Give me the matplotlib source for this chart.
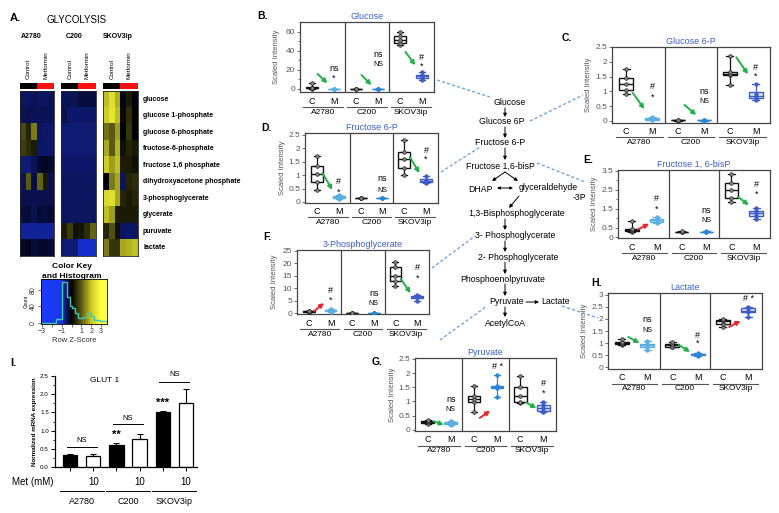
import numpy as np
import matplotlib
matplotlib.use('Agg')
import matplotlib.pyplot as plt
import matplotlib.transforms as mtransforms
from matplotlib.colors import LinearSegmentedColormap, ListedColormap
from matplotlib.patches import FancyArrowPatch
from matplotlib.lines import Line2D

plt.rcParams['font.family'] = ['Liberation Sans', 'DejaVu Sans']
plt.rcParams['axes.linewidth'] = 0.9

# ---------------- data ----------------
cell_lines = ['A2780', 'C200', 'SKOV3ip']
metabolites = ['glucose', 'glucose 1-phosphate', 'glucose 6-phosphate', 'fructose-6-phosphate',
               'fructose 1,6 phosphate', 'dihydroxyacetone phosphate', '3-phosphoglycerate',
               'glycerate', 'puruvate', 'lactate']

# row z-scores, 3 control + 3 metformin columns
heat_a2780 = [
    [-0.5, -0.5, -0.45, -0.5, -0.5, -0.45],
    [-0.45, -0.4, -0.45, -0.45, -0.45, -0.45],
    [0.8, 0.4, 1.3, -0.5, -0.55, -0.55],
    [0.7, 0.5, 0.3, -0.55, -0.55, -0.55],
    [-0.6, -0.6, -0.45, -0.25, -0.15, -0.25],
    [-0.45, 1.0, -0.35, 1.1, 0.3, -0.4],
    [-0.4, -0.4, -0.4, -0.4, -0.4, -0.4],
    [-0.35, -0.3, -0.4, -0.3, -0.35, -0.25],
    [-0.75, -0.75, -0.75, -0.75, -0.75, -0.75],
    [-0.2, -0.15, -0.3, -0.25, -0.2, -0.3],
]
heat_c200 = [
    [-0.45, -0.45, -0.45, -0.35, -0.35, -0.35],
    [-0.4, -0.55, -0.55, -0.55, -0.55, -0.55],
    [-0.6, -0.6, -0.6, -0.6, -0.6, -0.6],
    [-0.6, -0.6, -0.6, -0.6, -0.6, -0.6],
    [-0.55, -0.55, -0.55, -0.55, -0.55, -0.55],
    [-0.5, -0.5, -0.5, -0.5, -0.5, -0.5],
    [-0.5, -0.5, -0.5, -0.5, -0.5, -0.5],
    [-0.5, -0.5, -0.5, -0.5, -0.5, -0.5],
    [0.3, 0.7, 0.2, 0.25, 0.5, 1.1],
    [-0.6, -0.6, -0.6, -0.9, -0.9, -0.9],
]
heat_skov = [
    [1.9, 2.4, 1.8, -0.1, 0.3, -0.05],
    [2.1, 2.5, 1.9, 0.1, 0.5, 0.0],
    [1.2, 1.0, 1.6, 0.0, 0.6, 0.0],
    [1.7, 1.0, 1.8, 0.2, 0.4, 0.3],
    [2.1, 1.6, 1.9, 0.3, 0.3, 0.2],
    [0.0, 1.3, 1.7, -0.5, 0.4, 0.5],
    [2.3, 2.4, 1.7, 0.4, 0.3, 0.4],
    [1.9, 1.6, 0.3, 0.3, 0.3, 0.3],
    [0.4, 0.9, 0.2, -0.5, -0.55, -0.5],
    [1.3, 0.6, 0.6, 1.7, 1.8, 1.9],
]

key_edges = [-3.1, -1.55, -1.0, -0.5, -0.2, 0.05, 0.35, 0.7, 1.2, 1.55, 1.95, 2.3, 2.9, 3.6]
key_counts = [0, 9, 100, 63, 40, 36, 23, 11, 14, 23, 17, 8, 5]

# scaled intensities: per cell line, control (C) and metformin (M)
glc_ctrl = [[0.3, 0.8, 1.2, 6.0], [0.1, 0.2, 0.3], [46, 48, 52, 56, 60]]
glc_met = [[0.1, 0.2, 0.3], [0.2, 0.3, 0.4], [9.5, 12, 13.5, 15, 17.5]]
glc_sig = [('ns', '*'), ('ns', 'NS'), ('#', '*')]
glc_trend = ['down', 'down', 'down']

g6p_ctrl = [[0.9, 1.05, 1.25, 1.45, 1.75], [0.01, 0.02, 0.03], [1.2, 1.55, 1.6, 1.65, 2.2]]
g6p_met = [[0.02, 0.05, 0.08, 0.12], [0.01, 0.02, 0.03], [0.7, 0.78, 0.9, 1.25]]
g6p_sig = [('#', '*'), ('ns', 'NS'), ('#', '*')]
g6p_trend = ['down', 'down', 'down']

f6p_ctrl = [[0.45, 0.75, 1.05, 1.35, 1.7], [0.14, 0.15, 0.16], [1.0, 1.25, 1.6, 1.85, 2.3]]
f6p_met = [[0.12, 0.15, 0.2, 0.24], [0.14, 0.15, 0.16], [0.72, 0.76, 0.8, 0.97]]
f6p_sig = [('#', '*'), ('ns', 'NS'), ('#', '*')]
f6p_trend = ['down', None, 'down']

fbp_ctrl = [[0.3, 0.35, 0.4, 0.45, 0.85], [0.28, 0.3, 0.32], [1.85, 2.1, 2.5, 2.85, 3.35]]
fbp_met = [[0.75, 0.85, 0.95, 1.05], [0.28, 0.3, 0.32], [0.95, 1.15, 1.3, 1.4, 1.55]]
fbp_sig = [('#', '*'), ('ns', 'NS'), ('#', '*')]
fbp_trend = ['up', None, 'down']

pg3_ctrl = [[0.3, 0.5, 0.8, 1.0], [0.1, 0.15, 0.2], [11, 13, 15, 18.5, 20.5]]
pg3_met = [[0.6, 0.9, 1.2, 1.5], [0.1, 0.15, 0.2], [5, 6.3, 6.7, 7.3]]
pg3_sig = [('#', '*'), ('ns', 'NS'), ('#', '*')]
pg3_trend = ['up', None, 'down']

pyr_ctrl = [[0.22, 0.27, 0.3, 0.35], [0.62, 0.97, 1.1, 1.18, 1.56], [0.95, 0.98, 1.2, 1.5, 1.9]]
pyr_met = [[0.18, 0.22, 0.27, 0.3], [1.15, 1.46, 1.52, 1.56, 1.94], [0.62, 0.67, 0.78, 0.87, 0.97]]
pyr_sig = [('ns', 'NS'), ('# *', ''), ('#', '*')]
pyr_trend = ['down', 'up', 'down']

lac_ctrl = [[0.92, 0.97, 1.0, 1.05, 1.15], [0.82, 0.85, 0.95, 1.05], [1.65, 1.8, 1.9, 1.95, 2.0]]
lac_met = [[0.72, 0.82, 0.9, 0.95, 1.1], [0.48, 0.52, 0.55, 0.58], [2.1, 2.3, 2.35, 2.45, 2.5]]
lac_sig = [('ns', 'NS'), ('#', '*'), ('# *', '')]
lac_trend = ['down', 'down', 'up']

glut1_mean = [0.33, 0.29, 0.61, 0.76, 1.52, 1.75]
glut1_err = [0.03, 0.08, 0.06, 0.16, 0.03, 0.40]
glut1_stars = ['', '', '**', '', '***', '']
glut1_pair = ['NS', 'NS', 'NS']

pathway = [('Glucose', 510, 103), ('Glucose 6P', 502, 122), ('Fructose 6-P', 500, 143),
           ('Fructose 1,6-bisP', 500, 166), ('DHAP', 480, 189), ('glyceraldehyde', 548, 188),
           ('-3P', 579, 197), ('1,3-Bisphosphoglycerate', 517, 214), ('3- Phosphoglycerate', 515, 236),
           ('2- Phosphoglycerate', 518, 257), ('Phosphoenolpyruvate', 503, 279),
           ('Pyruvate', 507, 302), ('Lactate', 556, 302), ('AcetylCoA', 505, 323)]

# ---------------- layout ----------------
W, H = 779, 513
fig = plt.figure(figsize=(W / 100, H / 100), dpi=100)


def box(l, t, r, b):
    return [l / W, 1 - b / H, (r - l) / W, (b - t) / H]


def ftxt(x, y, s, **kw):
    kw.setdefault('ha', 'center')
    kw.setdefault('va', 'center')
    return fig.text(x / W, 1 - y / H, s, **kw)


def below(ax, dy):
    return mtransforms.offset_copy(ax.get_xaxis_transform(), fig=fig, x=0, y=-dy, units='dots')


def farrow(x0, y0, x1, y1, style='-|>', ms=5):
    fig.add_artist(FancyArrowPatch((x0 / W, 1 - y0 / H), (x1 / W, 1 - y1 / H),
                                   transform=fig.transFigure, arrowstyle=style,
                                   mutation_scale=ms, lw=0.7, color='black',
                                   shrinkA=0, shrinkB=0))


def dash(x0, y0, x1, y1):
    fig.add_artist(Line2D([x0 / W, x1 / W], [1 - y0 / H, 1 - y1 / H], transform=fig.transFigure,
                          color='#6fa6da', lw=1.0, ls=(0, (2.2, 1.6))))


# ---- panel A: heatmaps ----
ftxt(15, 18, 'A.', fontsize=8, fontweight='bold')
ftxt(77, 20, 'GLYCOLYSIS', fontsize=7)

cmap = LinearSegmentedColormap.from_list('bky', [
    (0.0, '#1a3cff'), (1 / 3, '#1a36e6'), (0.4, '#0f1a72'), (0.45, '#080c3a'), (0.5, '#000000'),
    (0.667, '#5a5a14'), (0.833, '#c8c825'), (1.0, '#ffff40')])

heat_cols = [(20, 54), (61, 96), (103, 138)]
label_x = [31, 74, 118]
for name, mat, (l, r), lx in zip(cell_lines, [heat_a2780, heat_c200, heat_skov], heat_cols, label_x):
    ax = fig.add_axes(box(l, 91, r, 256))
    ax.imshow(np.array(mat), cmap=cmap, vmin=-3, vmax=3, aspect='auto', interpolation='nearest')
    ax.set_xticks([])
    ax.set_yticks([])
    for s in ax.spines.values():
        s.set_color('#222222')
        s.set_linewidth(0.6)
    cb = fig.add_axes(box(l, 83, r, 89))
    cb.imshow([[0, 0, 0, 1, 1, 1]], cmap=ListedColormap(['#000000', '#ff1010']), aspect='auto')
    cb.axis('off')
    ftxt(lx, 37, name, fontsize=5, fontweight='bold')
    cw = (r - l) / 6
    ftxt(l + cw * 1.5, 79, 'Control', fontsize=4.5, rotation=90, va='bottom')
    ftxt(l + cw * 4.5, 79, 'Metformin', fontsize=4.5, rotation=90, va='bottom')

for i, m in enumerate(metabolites):
    ftxt(143, 91 + 16.5 * (i + 0.5), m, fontsize=5, fontweight='bold', ha='left')

ftxt(72, 267, 'Color Key', fontsize=6, fontweight='bold')
ftxt(72, 276, 'and Histogram', fontsize=6, fontweight='bold')
axk = fig.add_axes(box(41, 279, 107, 324))
grad = np.linspace(key_edges[0], key_edges[-1], 300)[None, :]
axk.imshow(grad, cmap=cmap, vmin=-3, vmax=3, aspect='auto',
           extent=[key_edges[0], key_edges[-1], -3, 107], zorder=0)
axk.stairs(key_counts, key_edges, color='#3cc8b4', lw=1.0, zorder=2)
axk.set_xlim(key_edges[0], key_edges[-1])
axk.set_ylim(-3, 107)
axk.set_xticks([-3, -2, -1, 0, 1, 2, 3])
axk.set_xticklabels(['\u22123', '', '\u22121', '', '1', '2', '3'], fontsize=5)
axk.set_yticks([0, 40, 80])
axk.set_yticklabels(['0', '40', '80'], fontsize=5, rotation=90, va='center')
axk.tick_params(length=2, width=0.5, pad=1, colors='#333333')
axk.set_xlabel('Row Z-Score', fontsize=5.5, labelpad=1, color='#333333')
axk.set_ylabel('Count', fontsize=3.5, labelpad=1)
for s in axk.spines.values():
    s.set_linewidth(0.6)

# ---- metabolite panels ----
m_edge = ['#5aaee0', '#2b86d6', '#3d5cc8']
m_fill = ['#bfe0f5', '#a9cff0', '#dfe6fa']
arrow_col = {'down': '#22b04b', 'up': '#e8262b'}


def draw_box(ax, vals, x, ec, fc, pc):
    ax.boxplot([vals], positions=[x], widths=0.55, whis=(0, 100), showfliers=False,
               patch_artist=True, manage_ticks=False,
               boxprops=dict(facecolor=fc, edgecolor=ec, linewidth=1.0),
               medianprops=dict(color=ec, linewidth=1.0),
               whiskerprops=dict(color=ec, linewidth=0.9),
               capprops=dict(color=ec, linewidth=0.9))
    ax.scatter([x] * len(vals), vals, s=7, color=pc, edgecolors=ec, linewidths=0.4, zorder=3)


def metab_panel(p):
    ax = fig.add_axes(box(*p['rect']))
    for g in range(3):
        pc, pm = 2 * g + 1, 2 * g + 2
        draw_box(ax, p['ctrl'][g], pc, '#111111', 'white', '#808080')
        draw_box(ax, p['met'][g], pm, m_edge[g], m_fill[g], m_edge[g])
        top, bot = p['sig'][g]
        ytop, ybot = p['sig_y'][g]
        ax.text(pm, ytop, top, fontsize=6.5, ha='center', va='center')
        if bot:
            ax.text(pm, ybot, bot, fontsize=5 if bot == 'NS' else 6.5, ha='center', va='center')
        tr = p['trend'][g]
        if tr:
            y0, y1 = p['arrow_y'][g]
            ax.annotate('', xy=(pm - 0.3, y1), xytext=(pc + 0.25, y0),
                        arrowprops=dict(arrowstyle='-|>', color=arrow_col[tr], lw=1.4,
                                        mutation_scale=6, shrinkA=0, shrinkB=0))
        ax.text(pc, 0, 'C', transform=below(ax, 9), fontsize=6.5, ha='center', va='center')
        ax.text(pm, 0, 'M', transform=below(ax, 9), fontsize=6.5, ha='center', va='center')
        ax.plot([2 * g + 0.6, 2 * g + 2.4], [0, 0], transform=below(ax, 14.5),
                color='#555555', lw=0.8, clip_on=False)
        ax.text(2 * g + 1.5, 0, cell_lines[g], transform=below(ax, 20), fontsize=6,
                ha='center', va='center')
    for xv in (2.5, 4.5):
        ax.axvline(xv, color='#444444', lw=0.9)
    ax.set_xlim(0.45, 6.55)
    ax.set_ylim(p['ylim'])
    ax.set_xticks([])
    ax.set_yticks(p['yticks'])
    ax.set_yticklabels([f'{v:g}' for v in p['yticks']])
    ax.set_yticks(p['minor'], minor=True)
    ax.tick_params(axis='y', which='both', labelsize=6, labelcolor='#555555', color='#555555',
                   length=2, width=0.6, pad=1.5)
    ax.tick_params(axis='y', which='minor', length=1.5)
    for s in ax.spines.values():
        s.set_color('#444444')
    ax.set_title(p['title'], fontsize=6.5, color='#3b5fc8', pad=2.5)
    ax.text(0, 0.5, 'Scaled Intensity', transform=mtransforms.offset_copy(
        ax.transAxes, fig=fig, x=-23, y=0, units='dots'), rotation=90, fontsize=5.5,
        color='#555555', ha='center', va='center')
    ftxt(*p['letter_xy'], p['letter'], fontsize=7.5, fontweight='bold')


panels = [
    dict(letter='B.', letter_xy=(263, 16), title='Glucose', ctrl=glc_ctrl, met=glc_met, sig=glc_sig,
         trend=glc_trend, rect=(300, 22, 434, 92), ylim=(-3.2, 70.5), yticks=[0, 20, 40, 60],
         minor=[10, 30, 50], sig_y=[(21.8, 11), (36, 26), (33, 23.5)],
         arrow_y=[(15.8, 6), (14.7, 4), (39, 25)]),
    dict(letter='C.', letter_xy=(567, 38), title='Glucose 6-P', ctrl=g6p_ctrl, met=g6p_met, sig=g6p_sig,
         trend=g6p_trend, rect=(612, 47, 770, 123), ylim=(-0.07, 2.5),
         yticks=[0, 0.5, 1, 1.5, 2, 2.5], minor=[], sig_y=[(1.15, 0.8), (0.98, 0.65), (1.82, 1.52)],
         arrow_y=[(0.95, 0.4), (0.54, 0.2), (2.15, 1.58)]),
    dict(letter='D.', letter_xy=(267, 128), title='Fructose 6-P', ctrl=f6p_ctrl, met=f6p_met, sig=f6p_sig,
         trend=f6p_trend, rect=(305, 133, 438, 203), ylim=(-0.04, 2.57),
         yticks=[0, 0.5, 1, 1.5, 2, 2.5], minor=[], sig_y=[(0.76, 0.38), (0.86, 0.43), (1.91, 1.6)],
         arrow_y=[(1.08, 0.45), None, (1.68, 1.08)]),
    dict(letter='E.', letter_xy=(588, 160), title='Fructose 1, 6-bisP', ctrl=fbp_ctrl, met=fbp_met,
         sig=fbp_sig, trend=fbp_trend, rect=(618, 170, 770, 238), ylim=(-0.03, 3.55),
         yticks=[0, 0.5, 1.5, 2.5, 3.5], minor=[1, 2, 3], sig_y=[(2.05, 1.5), (1.4, 0.9), (2.8, 2.3)],
         arrow_y=[(0.42, 0.72), None, (2.15, 1.7)]),
    dict(letter='F.', letter_xy=(267, 237), title='3-Phosphoglycerate', ctrl=pg3_ctrl, met=pg3_met,
         sig=pg3_sig, trend=pg3_trend, rect=(297, 250, 429, 314), ylim=(-0.4, 25.4),
         yticks=[0, 5, 10, 15, 20, 25], minor=[], sig_y=[(9, 5.2), (8, 4), (18.5, 14)],
         arrow_y=[(0.8, 4), None, (13.7, 8)]),
    dict(letter='G.', letter_xy=(377, 362), title='Pyruvate', ctrl=pyr_ctrl, met=pyr_met, sig=pyr_sig,
         trend=pyr_trend, rect=(415, 358, 556, 431), ylim=(-0.04, 2.53),
         yticks=[0, 0.5, 1, 1.5, 2, 2.5], minor=[], sig_y=[(1.08, 0.72), (2.22, 0), (1.63, 1.28)],
         arrow_y=[(0.3, 0.18), (0.42, 0.67), (0.97, 0.76)]),
    dict(letter='H.', letter_xy=(597, 283), title='Lactate', ctrl=lac_ctrl, met=lac_met, sig=lac_sig,
         trend=lac_trend, rect=(608, 293, 762, 369), ylim=(-0.08, 3.08),
         yticks=[0, 0.5, 1, 1.5, 2, 2.5, 3], minor=[], sig_y=[(1.96, 1.5), (1.33, 1.0), (2.87, 0)],
         arrow_y=[(1.25, 1.0), (0.92, 0.63), (1.67, 1.92)]),
]
for p in panels:
    metab_panel(p)

# ---- pathway diagram ----
for name, x, y in pathway:
    ftxt(x, y, name, fontsize=6.3)
for y0, y1 in [(108, 117), (127, 138), (148, 160), (219, 230), (241, 252), (262, 274),
               (284, 296), (307, 317)]:
    farrow(505, y0, 505, y1)
farrow(505, 172, 492, 181)
farrow(505, 172, 518, 181)
farrow(497, 188, 513, 188, style='<|-|>', ms=4)
farrow(519, 196, 509, 208)
farrow(526, 302, 539, 302)

dash(437, 80, 490, 97)
dash(530, 121, 583, 95)
dash(441, 172, 480, 147)
dash(537, 163, 585, 182)
dash(432, 268, 475, 236)
dash(440, 340, 487, 306)
dash(562, 306, 598, 318)

# ---- panel I: GLUT1 ----
ftxt(13, 363, 'I.', fontsize=8, fontweight='bold')
axI = fig.add_axes(box(55, 376, 197, 467))
xb = np.arange(len(glut1_mean))
axI.bar(xb, glut1_mean, width=0.62, color=['black', 'white'] * 3, edgecolor='black', linewidth=0.9)
axI.errorbar(xb, glut1_mean, yerr=[np.zeros(len(xb)), glut1_err], fmt='none', ecolor='black',
             elinewidth=0.8, capsize=2.5, capthick=0.8)
axI.set_xlim(-0.65, 5.48)
axI.set_ylim(0, 2.5)
axI.spines['top'].set_visible(False)
axI.spines['right'].set_visible(False)
axI.set_yticks(np.arange(0, 2.51, 0.5))
axI.set_yticklabels([f'{v:.1f}' for v in np.arange(0, 2.51, 0.5)], fontsize=4.5)
axI.set_yticks(np.arange(0.25, 2.5, 0.5), minor=True)
axI.set_xticks(xb)
axI.set_xticklabels([])
axI.tick_params(length=3, width=0.7, pad=1.5)
axI.tick_params(which='minor', length=1.5, width=0.6)
axI.set_ylabel('Normalized mRNA expression', fontsize=4.5, fontweight='bold', labelpad=2)
axI.text(1.5, 2.38, 'GLUT 1', fontsize=6, ha='center', va='center')
pair_line = [0.56, 1.18, 2.34]
pair_text = [0.72, 1.34, 2.53]
for k in range(3):
    axI.plot([2 * k - 0.15, 2 * k + 1.15], [pair_line[k]] * 2, color='black', lw=0.7, clip_on=False)
    axI.text(2 * k + 0.5, pair_text[k], glut1_pair[k], fontsize=5.5, ha='center', va='center',
             clip_on=False)
for k, s in enumerate(glut1_stars):
    if s:
        axI.text(k, glut1_mean[k] + glut1_err[k] + 0.22, s, fontsize=8, fontweight='bold',
                 ha='center', va='center')

ftxt(33, 482, 'Met (mM)', fontsize=7)
yl = mtransforms.blended_transform_factory(axI.transData, fig.transFigure)
for k in range(3):
    axI.text(2 * k + 1, 1 - 482 / H, '10', transform=yl, fontsize=7, ha='center', va='center')
    axI.plot([2 * k - 0.45, 2 * k + 1.45], [1 - 491 / H] * 2, transform=yl, color='black', lw=0.7,
             clip_on=False)
    axI.text(2 * k + 0.5, 1 - 502 / H, cell_lines[k], transform=yl, fontsize=6.5, ha='center',
             va='center')

fig.savefig('out.png', dpi=100)
